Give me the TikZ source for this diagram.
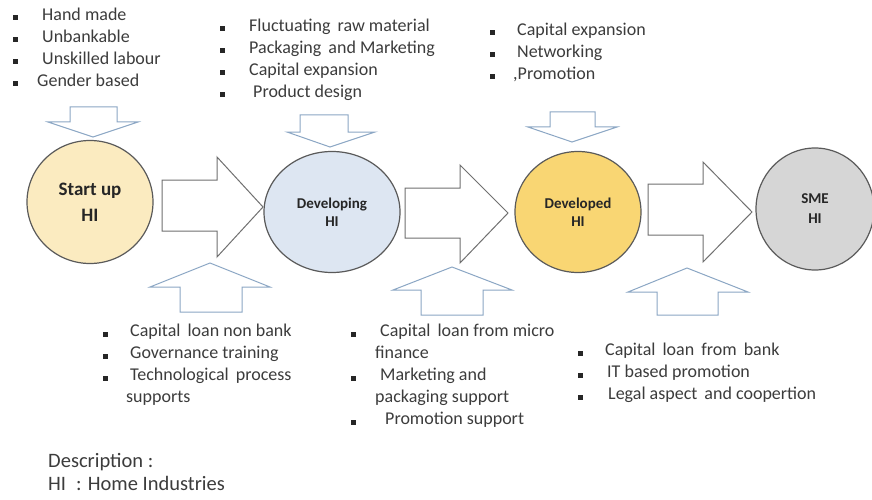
\documentclass[tikz,border=0pt]{standalone}
\usepackage{fontspec}
\setmainfont{Carlito}
\usetikzlibrary{shapes.geometric}
\definecolor{txtgray}{HTML}{3C3C3C}
\definecolor{startfill}{HTML}{FBEBC0}
\definecolor{devfill}{HTML}{DDE6F2}
\definecolor{dvdfill}{HTML}{F9D673}
\definecolor{smefill}{HTML}{D6D6D6}
\definecolor{circline}{HTML}{5A5A5A}
\definecolor{bigline}{HTML}{707070}
\definecolor{smallline}{HTML}{8BA6C4}
\tikzset{
  txt/.style={anchor=mid west, inner sep=0pt, text=txtgray, font=\fontsize{18}{22}\selectfont},
  desc/.style={txt, font=\fontsize{20.5}{24}\selectfont},
  bul/.style={fill=black!85, minimum size=5pt, inner sep=0pt, draw=none},
  stage/.style={ellipse, draw=circline, line width=1.2pt, inner sep=0pt, align=center, text=black!85},
  bigarrow/.style={draw=bigline, line width=1pt, fill=white, line join=miter},
  smallarrow/.style={draw=smallline, line width=1pt, fill=white, line join=miter},
}
\begin{document}
\begin{tikzpicture}[x=1pt,y=-1pt]
\useasboundingbox (0,0) rectangle (872,500);
\fill[white] (0,0) rectangle (872,500);

% circles
\node[stage, fill=startfill, minimum width=126pt, minimum height=123pt, font=\fontsize{19}{26}\selectfont\bfseries] (start) at (90,202) {Start up\\HI};
\node[stage, fill=devfill, minimum width=136pt, minimum height=121pt, font=\fontsize{15}{18}\selectfont\bfseries] (dev) at (332,212) {Developing\\HI};
\node[stage, fill=dvdfill, minimum width=126pt, minimum height=121pt, font=\fontsize{15}{18}\selectfont\bfseries] (dvd) at (578,212) {Developed\\HI};
\node[stage, fill=smefill, minimum width=118pt, minimum height=122pt, font=\fontsize{15}{20}\selectfont\bfseries] (sme) at (815,209) {SME\\HI};

% big arrows
\draw[bigarrow] (162,180) -- (217,180) -- (217,157) -- (263,207) -- (217,257) -- (217,231) -- (162,231) -- cycle;
\draw[bigarrow] (405,188) -- (460,188) -- (460,165) -- (508,213) -- (460,263) -- (460,238) -- (405,238) -- cycle;
\draw[bigarrow] (648,184) -- (703,184) -- (703,162) -- (752,212) -- (703,262) -- (703,235) -- (648,235) -- cycle;

% small down arrows
\draw[smallarrow] (70,107) -- (117,107) -- (117,122) -- (138,122) -- (93,137) -- (48,122) -- (70,122) -- cycle;
\draw[smallarrow] (300,115) -- (348,115) -- (348,132) -- (375,132) -- (330,147) -- (287,132) -- (300,132) -- cycle;
\draw[smallarrow] (550,112) -- (595,112) -- (595,127) -- (617,127) -- (572,142) -- (528,127) -- (550,127) -- cycle;

% small up arrows
\draw[smallarrow] (180,312) -- (242,312) -- (242,287) -- (270,287) -- (210,263) -- (150,287) -- (180,287) -- cycle;
\draw[smallarrow] (421,315) -- (483,315) -- (483,290) -- (512,290) -- (452,267) -- (393,290) -- (421,290) -- cycle;
\draw[smallarrow] (657,315) -- (718,315) -- (718,292) -- (748,292) -- (687,268) -- (628,292) -- (657,292) -- cycle;

% list 1
\node[bul] (b11) at (15,18) {}; \node[txt] (t11) at (42,18) {Hand made};
\node[bul] (b12) at (15,40) {}; \node[txt] (t12) at (42,40) {Unbankable};
\node[bul] (b13) at (15,62) {}; \node[txt] (t13) at (42,62) {Unskilled labour};
\node[bul] (b14) at (15,84) {}; \node[txt] (t14) at (37,84) {Gender based};

% list 2
\node[bul] (b21) at (222,29) {}; \node[txt] (t21) at (249,29) {Fluctuating\, raw material};
\node[bul] (b22) at (222,51) {}; \node[txt] (t22) at (249,51) {Packaging\, and Marketing};
\node[bul] (b23) at (222,73) {}; \node[txt] (t23) at (249,73) {Capital expansion};
\node[bul] (b24) at (222,95) {}; \node[txt] (t24) at (253,95) {Product design};

% list 3
\node[bul] (b31) at (492,33) {}; \node[txt] (t31) at (517,33) {Capital expansion};
\node[bul] (b32) at (492,55) {}; \node[txt] (t32) at (517,55) {Networking};
\node[bul] (b33) at (492,77) {}; \node[txt] (t33) at (513,77) {,Promotion};

% list 4
\node[bul] (b41) at (105,334) {}; \node[txt] (t41) at (130,334) {Capital\, loan non bank};
\node[bul] (b42) at (105,356) {}; \node[txt] (t42) at (130,356) {Governance training};
\node[bul] (b43) at (105,378) {}; \node[txt] (t43) at (130,378) {Technological\, process};
\node[txt] (t44) at (126,400) {supports};

% list 5
\node[bul] (b51) at (353,334) {}; \node[txt] (t51) at (380,334) {Capital\, loan from micro};
\node[txt] (t52) at (375,356) {finance};
\node[bul] (b53) at (353,378) {}; \node[txt] (t53) at (380,378) {Marketing and};
\node[txt] (t54) at (375,400) {packaging support};
\node[bul] (b55) at (353,422) {}; \node[txt] (t55) at (385,422) {Promotion support};

% list 6
\node[bul] (b61) at (580,353) {}; \node[txt] (t61) at (605,353) {Capital\, loan\, from\, bank};
\node[bul] (b62) at (580,375) {}; \node[txt] (t62) at (607,375) {IT based promotion};
\node[bul] (b63) at (580,397) {}; \node[txt] (t63) at (608,397) {Legal aspect\, and coopertion};

% description
\node[desc] (d1) at (48,465) {Description :};
\node[desc] (d2) at (48,488) {HI};
\node[desc] (d3) at (76,488) {: Home Industries};
\end{tikzpicture}
\end{document}
